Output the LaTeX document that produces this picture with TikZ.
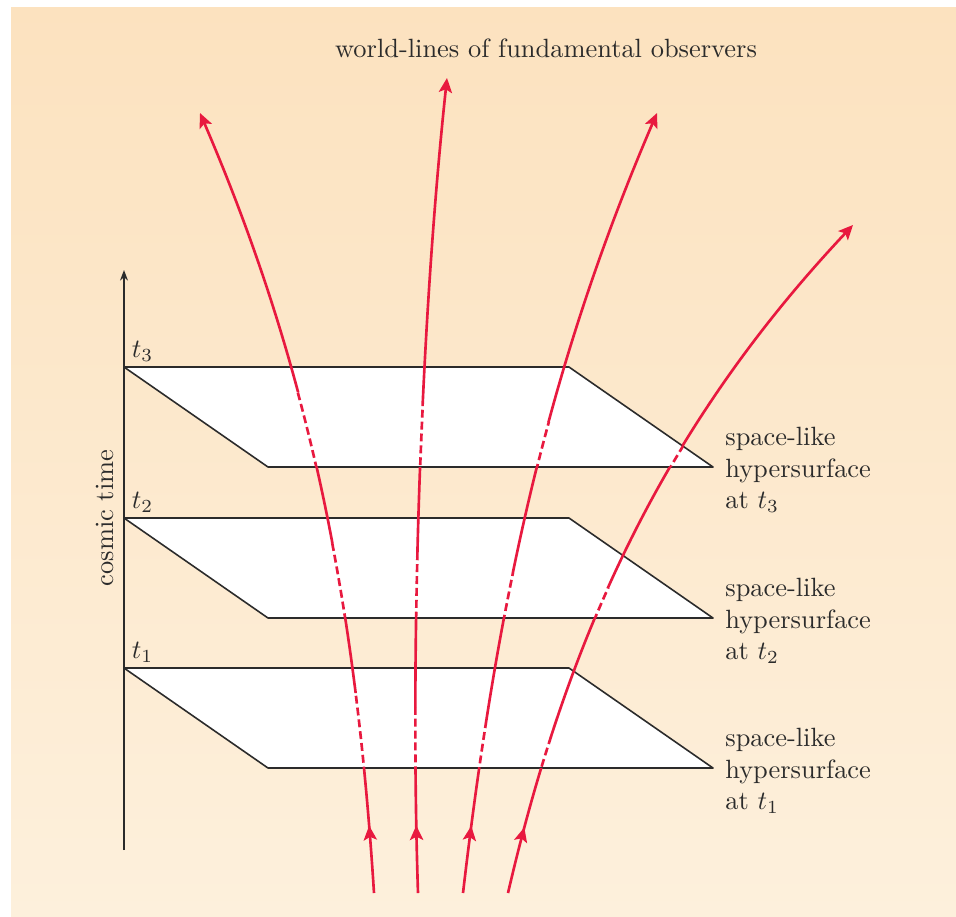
\documentclass[tikz,border=0pt]{standalone}
\usetikzlibrary{arrows.meta,decorations.markings}
\definecolor{bgtop}{HTML}{FCE2BF}
\definecolor{bgbot}{HTML}{FDF0DC}
\definecolor{linecol}{HTML}{E8193F}
\definecolor{inkcol}{HTML}{2B2B2B}

\begin{document}
\begin{tikzpicture}[x=0.0133cm,y=-0.0133cm,
  plane/.style={fill=white,draw=inkcol,line width=0.6pt,line join=round},
  worldline/.style={color=linecol,line width=1pt},
  hidden/.style={worldline,dash pattern=on 3pt off 1.5pt},
  tip/.style={-{Stealth[length=5.5pt,width=5pt,inset=1.2pt]}},
  midtip/.style={postaction={decorate},decoration={markings,
      mark=at position 0.9cm with {\arrow{Stealth[length=5.5pt,width=5pt,inset=1.2pt]}}}},
  surflabel/.style={anchor=west,align=left,text=inkcol}]
  \useasboundingbox (0,0) rectangle (956,916);
  \fill[top color=bgtop,bottom color=bgbot] (11,7) rectangle (956,916);

  \foreach \i/\T in {1/668,2/518,3/367} {
    \filldraw[plane] (124,\T) -- (569,\T) -- (713,{\T+100}) -- (268,{\T+100}) -- cycle;
    \node[anchor=south west,inner sep=2pt,text=inkcol] (t\i) at (126,\T) {$t_\i$};
    \node[surflabel] (surf\i) at (716,{\T+103}) {space-like\\hypersurface\\at $t_\i$};
  }

  \coordinate (axis-low) at (124,850);
  \coordinate (axis-top) at (124,270);
  \draw[inkcol,line width=0.6pt,-{Stealth[length=4pt,width=3pt]}] (axis-low) -- (axis-top);
  \node[rotate=90,text=inkcol] (cosmic) at (105,518) {cosmic time};
  \node[text=inkcol] (title) at (546,48) {world-lines of fundamental observers};

  \foreach \n/\s/\p/\q/\e/\dep in {1/{374,893}/{355,593}/{307.5,363}/{200,113}/25,
      2/{418,893}/{410,650}/{420,330}/{447,78}/39,
      3/{463,893}/{498,593}/{549.5,363}/{657,113}/55,
      4/{508,893}/{566,643}/{660,430}/{853,225}/70} {
    \coordinate (obs\n-a) at (\s);
    \coordinate (obs\n-b) at (\e);
    \begin{scope}[even odd rule]
      \clip (0,0) rectangle (956,916)
        \foreach \T in {367,518,668} {({124+1.44*\dep},{\T+\dep}) -- ({569+1.44*\dep},{\T+\dep}) -- (713,{\T+100}) -- (268,{\T+100}) -- cycle};
      \draw[worldline,tip,midtip] (obs\n-a) .. controls (\p) and (\q) .. (obs\n-b);
    \end{scope}
    \begin{scope}
      \clip \foreach \T in {367,518,668} {({124+1.44*\dep},{\T+\dep}) -- ({569+1.44*\dep},{\T+\dep}) -- (713,{\T+100}) -- (268,{\T+100}) -- cycle};
      \draw[hidden] (obs\n-a) .. controls (\p) and (\q) .. (obs\n-b);
    \end{scope}
  }
\end{tikzpicture}
\end{document}
